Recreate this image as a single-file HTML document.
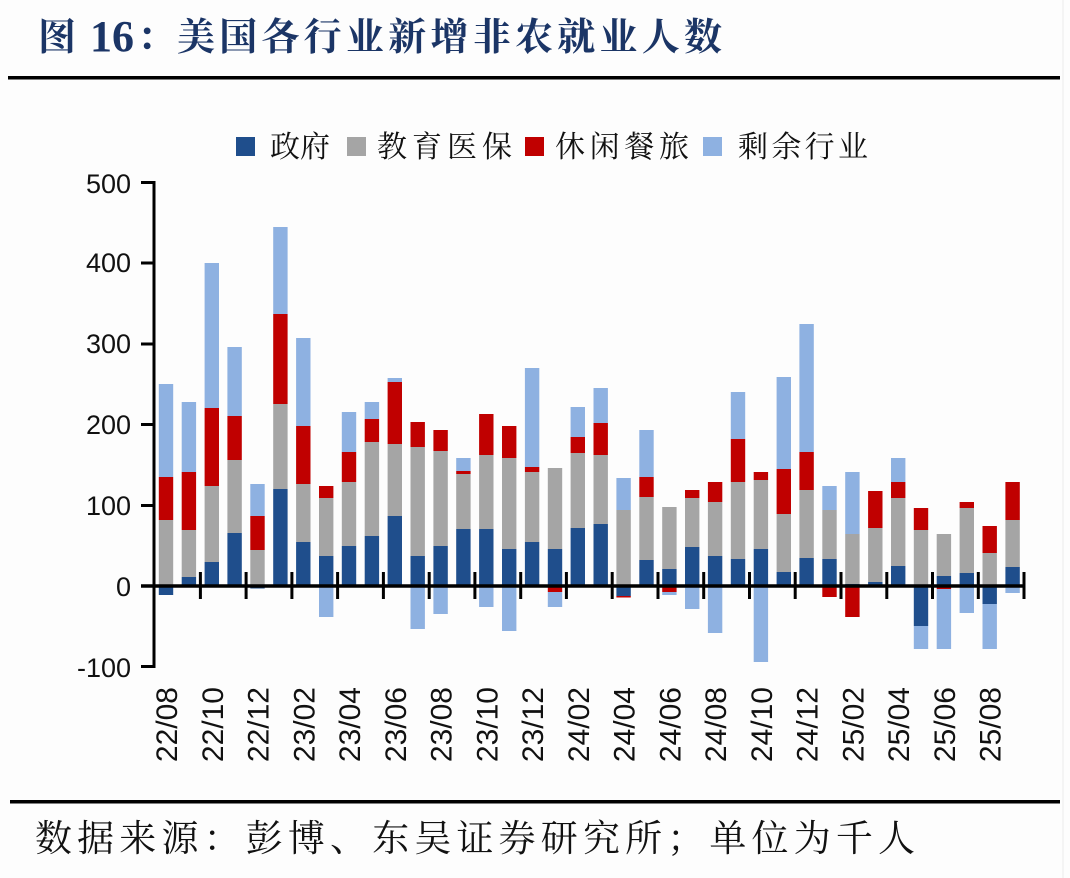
<!DOCTYPE html>
<html><head><meta charset="utf-8"><style>
html,body{margin:0;padding:0;background:#fdfdfd;}
svg{display:block;}
</style></head><body>
<svg width="1070" height="878" viewBox="0 0 1070 878" xmlns="http://www.w3.org/2000/svg">
<rect x="0" y="0" width="1070" height="878" fill="#fdfdfd"/>
<line x1="1063" y1="0" x2="1063" y2="878" stroke="#ececec" stroke-width="1"/>
<!-- Title -->
<g fill="#1b3566" font-weight="bold">
<text x="38" y="50" font-family="'Liberation Serif','Noto Serif CJK SC',serif" font-size="38">图</text>
<text x="90" y="51" font-family="'Liberation Serif',serif" font-size="44">16</text>
<text x="137" y="50" font-family="'Noto Serif CJK SC',serif" font-size="38">：</text>
<text x="177" y="50" font-family="'Liberation Serif','Noto Serif CJK SC',serif" font-size="38" textLength="545" lengthAdjust="spacing">美国各行业新增非农就业人数</text>
</g>
<rect x="8" y="76" width="1052" height="3.5" fill="#000"/>
<!-- Legend -->
<g font-family="'Liberation Serif','Noto Serif CJK SC',serif" font-size="30" fill="#111">
<rect x="236" y="137" width="19" height="19" fill="#1f4e8c"/>
<text x="270" y="157" textLength="60" lengthAdjust="spacing">政府</text>
<rect x="347" y="137" width="19" height="19" fill="#a5a5a5"/>
<text x="377" y="157" textLength="135" lengthAdjust="spacing">教育医保</text>
<rect x="525" y="137" width="19" height="19" fill="#c00000"/>
<text x="555" y="157" textLength="134" lengthAdjust="spacing">休闲餐旅</text>
<rect x="703" y="137" width="19" height="19" fill="#8eb1e1"/>
<text x="738" y="157" textLength="130" lengthAdjust="spacing">剩余行业</text>
</g>
<!-- Y labels -->
<g font-family="'Liberation Sans',sans-serif" font-size="27" fill="#111" text-anchor="end">
<text x="131" y="193">500</text>
<text x="131" y="272">400</text>
<text x="131" y="353">300</text>
<text x="131" y="434">200</text>
<text x="131" y="515">100</text>
<text x="131" y="596">0</text>
<text x="131" y="677">-100</text>
</g>
<!-- Bars -->
<g>
<!-- 1 -->
<rect x="158.8" y="586" width="14.4" height="9" fill="#1f4e8c"/>
<rect x="158.8" y="520" width="14.4" height="66" fill="#a5a5a5"/>
<rect x="158.8" y="477" width="14.4" height="43" fill="#c00000"/>
<rect x="158.8" y="384" width="14.4" height="93" fill="#8eb1e1"/>
<!-- 2 -->
<rect x="181.7" y="577" width="14.4" height="9" fill="#1f4e8c"/>
<rect x="181.7" y="530" width="14.4" height="47" fill="#a5a5a5"/>
<rect x="181.7" y="472" width="14.4" height="58" fill="#c00000"/>
<rect x="181.7" y="402" width="14.4" height="70" fill="#8eb1e1"/>
<!-- 3 -->
<rect x="204.6" y="562" width="14.4" height="24" fill="#1f4e8c"/>
<rect x="204.6" y="486" width="14.4" height="76" fill="#a5a5a5"/>
<rect x="204.6" y="408" width="14.4" height="78" fill="#c00000"/>
<rect x="204.6" y="263" width="14.4" height="145" fill="#8eb1e1"/>
<!-- 4 -->
<rect x="227.4" y="533" width="14.4" height="53" fill="#1f4e8c"/>
<rect x="227.4" y="460" width="14.4" height="73" fill="#a5a5a5"/>
<rect x="227.4" y="416" width="14.4" height="44" fill="#c00000"/>
<rect x="227.4" y="347" width="14.4" height="69" fill="#8eb1e1"/>
<!-- 5 -->
<rect x="250.3" y="586" width="14.4" height="2.5" fill="#1f4e8c"/>
<rect x="250.3" y="550" width="14.4" height="36" fill="#a5a5a5"/>
<rect x="250.3" y="516" width="14.4" height="34" fill="#c00000"/>
<rect x="250.3" y="484" width="14.4" height="32" fill="#8eb1e1"/>
<!-- 6 -->
<rect x="273.2" y="489" width="14.4" height="97" fill="#1f4e8c"/>
<rect x="273.2" y="404" width="14.4" height="85" fill="#a5a5a5"/>
<rect x="273.2" y="314" width="14.4" height="90" fill="#c00000"/>
<rect x="273.2" y="227" width="14.4" height="87" fill="#8eb1e1"/>
<!-- 7 -->
<rect x="296.1" y="542" width="14.4" height="44" fill="#1f4e8c"/>
<rect x="296.1" y="484" width="14.4" height="58" fill="#a5a5a5"/>
<rect x="296.1" y="426" width="14.4" height="58" fill="#c00000"/>
<rect x="296.1" y="338" width="14.4" height="88" fill="#8eb1e1"/>
<!-- 8 -->
<rect x="319.0" y="556" width="14.4" height="30" fill="#1f4e8c"/>
<rect x="319.0" y="498" width="14.4" height="58" fill="#a5a5a5"/>
<rect x="319.0" y="486" width="14.4" height="12" fill="#c00000"/>
<rect x="319.0" y="586" width="14.4" height="31" fill="#8eb1e1"/>
<!-- 9 -->
<rect x="341.8" y="546" width="14.4" height="40" fill="#1f4e8c"/>
<rect x="341.8" y="482" width="14.4" height="64" fill="#a5a5a5"/>
<rect x="341.8" y="452" width="14.4" height="30" fill="#c00000"/>
<rect x="341.8" y="412" width="14.4" height="40" fill="#8eb1e1"/>
<!-- 10 -->
<rect x="364.7" y="536" width="14.4" height="50" fill="#1f4e8c"/>
<rect x="364.7" y="442" width="14.4" height="94" fill="#a5a5a5"/>
<rect x="364.7" y="419" width="14.4" height="23" fill="#c00000"/>
<rect x="364.7" y="402" width="14.4" height="17" fill="#8eb1e1"/>
<!-- 11 -->
<rect x="387.6" y="516" width="14.4" height="70" fill="#1f4e8c"/>
<rect x="387.6" y="444" width="14.4" height="72" fill="#a5a5a5"/>
<rect x="387.6" y="382" width="14.4" height="62" fill="#c00000"/>
<rect x="387.6" y="378" width="14.4" height="4" fill="#8eb1e1"/>
<!-- 12 -->
<rect x="410.5" y="556" width="14.4" height="30" fill="#1f4e8c"/>
<rect x="410.5" y="447" width="14.4" height="109" fill="#a5a5a5"/>
<rect x="410.5" y="422" width="14.4" height="25" fill="#c00000"/>
<rect x="410.5" y="586" width="14.4" height="43" fill="#8eb1e1"/>
<!-- 13 -->
<rect x="433.4" y="546" width="14.4" height="40" fill="#1f4e8c"/>
<rect x="433.4" y="451" width="14.4" height="95" fill="#a5a5a5"/>
<rect x="433.4" y="430" width="14.4" height="21" fill="#c00000"/>
<rect x="433.4" y="586" width="14.4" height="28" fill="#8eb1e1"/>
<!-- 14 -->
<rect x="456.2" y="529" width="14.4" height="57" fill="#1f4e8c"/>
<rect x="456.2" y="474" width="14.4" height="55" fill="#a5a5a5"/>
<rect x="456.2" y="471" width="14.4" height="3" fill="#c00000"/>
<rect x="456.2" y="458" width="14.4" height="13" fill="#8eb1e1"/>
<!-- 15 -->
<rect x="479.1" y="529" width="14.4" height="57" fill="#1f4e8c"/>
<rect x="479.1" y="455" width="14.4" height="74" fill="#a5a5a5"/>
<rect x="479.1" y="414" width="14.4" height="41" fill="#c00000"/>
<rect x="479.1" y="586" width="14.4" height="21" fill="#8eb1e1"/>
<!-- 16 -->
<rect x="502.0" y="549" width="14.4" height="37" fill="#1f4e8c"/>
<rect x="502.0" y="458" width="14.4" height="91" fill="#a5a5a5"/>
<rect x="502.0" y="426" width="14.4" height="32" fill="#c00000"/>
<rect x="502.0" y="586" width="14.4" height="45" fill="#8eb1e1"/>
<!-- 17 -->
<rect x="524.9" y="542" width="14.4" height="44" fill="#1f4e8c"/>
<rect x="524.9" y="472" width="14.4" height="70" fill="#a5a5a5"/>
<rect x="524.9" y="467" width="14.4" height="5" fill="#c00000"/>
<rect x="524.9" y="368" width="14.4" height="99" fill="#8eb1e1"/>
<!-- 18 -->
<rect x="547.8" y="549" width="14.4" height="37" fill="#1f4e8c"/>
<rect x="547.8" y="468" width="14.4" height="81" fill="#a5a5a5"/>
<rect x="547.8" y="586" width="14.4" height="6" fill="#c00000"/>
<rect x="547.8" y="592" width="14.4" height="15" fill="#8eb1e1"/>
<!-- 19 -->
<rect x="570.6" y="528" width="14.4" height="58" fill="#1f4e8c"/>
<rect x="570.6" y="453" width="14.4" height="75" fill="#a5a5a5"/>
<rect x="570.6" y="437" width="14.4" height="16" fill="#c00000"/>
<rect x="570.6" y="407" width="14.4" height="30" fill="#8eb1e1"/>
<!-- 20 -->
<rect x="593.5" y="524" width="14.4" height="62" fill="#1f4e8c"/>
<rect x="593.5" y="455" width="14.4" height="69" fill="#a5a5a5"/>
<rect x="593.5" y="423" width="14.4" height="32" fill="#c00000"/>
<rect x="593.5" y="388" width="14.4" height="35" fill="#8eb1e1"/>
<!-- 21 -->
<rect x="616.4" y="586" width="14.4" height="10" fill="#1f4e8c"/>
<rect x="616.4" y="596" width="14.4" height="1.5" fill="#c00000"/>
<rect x="616.4" y="510" width="14.4" height="76" fill="#a5a5a5"/>
<rect x="616.4" y="478" width="14.4" height="32" fill="#8eb1e1"/>
<!-- 22 -->
<rect x="639.3" y="560" width="14.4" height="26" fill="#1f4e8c"/>
<rect x="639.3" y="497" width="14.4" height="63" fill="#a5a5a5"/>
<rect x="639.3" y="477" width="14.4" height="20" fill="#c00000"/>
<rect x="639.3" y="430" width="14.4" height="47" fill="#8eb1e1"/>
<!-- 23 -->
<rect x="662.2" y="569" width="14.4" height="17" fill="#1f4e8c"/>
<rect x="662.2" y="507" width="14.4" height="62" fill="#a5a5a5"/>
<rect x="662.2" y="586" width="14.4" height="6" fill="#c00000"/>
<rect x="662.2" y="592" width="14.4" height="3" fill="#8eb1e1"/>
<!-- 24 -->
<rect x="685.0" y="547" width="14.4" height="39" fill="#1f4e8c"/>
<rect x="685.0" y="498" width="14.4" height="49" fill="#a5a5a5"/>
<rect x="685.0" y="490" width="14.4" height="8" fill="#c00000"/>
<rect x="685.0" y="586" width="14.4" height="23" fill="#8eb1e1"/>
<!-- 25 -->
<rect x="707.9" y="556" width="14.4" height="30" fill="#1f4e8c"/>
<rect x="707.9" y="502" width="14.4" height="54" fill="#a5a5a5"/>
<rect x="707.9" y="482" width="14.4" height="20" fill="#c00000"/>
<rect x="707.9" y="586" width="14.4" height="47" fill="#8eb1e1"/>
<!-- 26 -->
<rect x="730.8" y="559" width="14.4" height="27" fill="#1f4e8c"/>
<rect x="730.8" y="482" width="14.4" height="77" fill="#a5a5a5"/>
<rect x="730.8" y="439" width="14.4" height="43" fill="#c00000"/>
<rect x="730.8" y="392" width="14.4" height="47" fill="#8eb1e1"/>
<!-- 27 -->
<rect x="753.7" y="549" width="14.4" height="37" fill="#1f4e8c"/>
<rect x="753.7" y="480" width="14.4" height="69" fill="#a5a5a5"/>
<rect x="753.7" y="472" width="14.4" height="8" fill="#c00000"/>
<rect x="753.7" y="586" width="14.4" height="76" fill="#8eb1e1"/>
<!-- 28 -->
<rect x="776.6" y="572" width="14.4" height="14" fill="#1f4e8c"/>
<rect x="776.6" y="514" width="14.4" height="58" fill="#a5a5a5"/>
<rect x="776.6" y="469" width="14.4" height="45" fill="#c00000"/>
<rect x="776.6" y="377" width="14.4" height="92" fill="#8eb1e1"/>
<!-- 29 -->
<rect x="799.4" y="558" width="14.4" height="28" fill="#1f4e8c"/>
<rect x="799.4" y="490" width="14.4" height="68" fill="#a5a5a5"/>
<rect x="799.4" y="452" width="14.4" height="38" fill="#c00000"/>
<rect x="799.4" y="324" width="14.4" height="128" fill="#8eb1e1"/>
<!-- 30 -->
<rect x="822.3" y="559" width="14.4" height="27" fill="#1f4e8c"/>
<rect x="822.3" y="510" width="14.4" height="49" fill="#a5a5a5"/>
<rect x="822.3" y="486" width="14.4" height="24" fill="#8eb1e1"/>
<rect x="822.3" y="586" width="14.4" height="11" fill="#c00000"/>
<!-- 31 -->
<rect x="845.2" y="584" width="14.4" height="2" fill="#1f4e8c"/>
<rect x="845.2" y="534" width="14.4" height="50" fill="#a5a5a5"/>
<rect x="845.2" y="472" width="14.4" height="62" fill="#8eb1e1"/>
<rect x="845.2" y="586" width="14.4" height="31" fill="#c00000"/>
<!-- 32 -->
<rect x="868.1" y="582" width="14.4" height="4" fill="#1f4e8c"/>
<rect x="868.1" y="528" width="14.4" height="54" fill="#a5a5a5"/>
<rect x="868.1" y="491" width="14.4" height="37" fill="#c00000"/>
<!-- 33 -->
<rect x="891.0" y="566" width="14.4" height="20" fill="#1f4e8c"/>
<rect x="891.0" y="498" width="14.4" height="68" fill="#a5a5a5"/>
<rect x="891.0" y="482" width="14.4" height="16" fill="#c00000"/>
<rect x="891.0" y="458" width="14.4" height="24" fill="#8eb1e1"/>
<!-- 34 -->
<rect x="913.8" y="586" width="14.4" height="40" fill="#1f4e8c"/>
<rect x="913.8" y="626" width="14.4" height="23" fill="#8eb1e1"/>
<rect x="913.8" y="530" width="14.4" height="56" fill="#a5a5a5"/>
<rect x="913.8" y="508" width="14.4" height="22" fill="#c00000"/>
<!-- 35 -->
<rect x="936.7" y="576" width="14.4" height="10" fill="#1f4e8c"/>
<rect x="936.7" y="534" width="14.4" height="42" fill="#a5a5a5"/>
<rect x="936.7" y="586" width="14.4" height="3" fill="#c00000"/>
<rect x="936.7" y="589" width="14.4" height="60" fill="#8eb1e1"/>
<!-- 36 -->
<rect x="959.6" y="573" width="14.4" height="13" fill="#1f4e8c"/>
<rect x="959.6" y="508" width="14.4" height="65" fill="#a5a5a5"/>
<rect x="959.6" y="502" width="14.4" height="6" fill="#c00000"/>
<rect x="959.6" y="586" width="14.4" height="27" fill="#8eb1e1"/>
<!-- 37 -->
<rect x="982.5" y="586" width="14.4" height="18" fill="#1f4e8c"/>
<rect x="982.5" y="604" width="14.4" height="45" fill="#8eb1e1"/>
<rect x="982.5" y="553" width="14.4" height="33" fill="#a5a5a5"/>
<rect x="982.5" y="526" width="14.4" height="27" fill="#c00000"/>
<!-- 38 -->
<rect x="1005.4" y="567" width="14.4" height="19" fill="#1f4e8c"/>
<rect x="1005.4" y="520" width="14.4" height="47" fill="#a5a5a5"/>
<rect x="1005.4" y="482" width="14.4" height="38" fill="#c00000"/>
<rect x="1005.4" y="586" width="14.4" height="7" fill="#8eb1e1"/>
</g>
<!-- Axes -->
<g stroke="#000" stroke-width="3" fill="none">
<line x1="154" y1="181" x2="154" y2="668"/>
<line x1="141" y1="182.5" x2="154" y2="182.5"/>
<line x1="141" y1="263" x2="154" y2="263"/>
<line x1="141" y1="344" x2="154" y2="344"/>
<line x1="141" y1="424.5" x2="154" y2="424.5"/>
<line x1="141" y1="505.5" x2="154" y2="505.5"/>
<line x1="141" y1="666.5" x2="154" y2="666.5"/>
<line x1="141" y1="586" x2="1025" y2="586" stroke-width="3.5"/>
<line x1="200.4" y1="572" x2="200.4" y2="599"/>
<line x1="246.1" y1="572" x2="246.1" y2="599"/>
<line x1="291.9" y1="572" x2="291.9" y2="599"/>
<line x1="337.6" y1="572" x2="337.6" y2="599"/>
<line x1="383.4" y1="572" x2="383.4" y2="599"/>
<line x1="429.2" y1="572" x2="429.2" y2="599"/>
<line x1="474.9" y1="572" x2="474.9" y2="599"/>
<line x1="520.7" y1="572" x2="520.7" y2="599"/>
<line x1="566.4" y1="572" x2="566.4" y2="599"/>
<line x1="612.2" y1="572" x2="612.2" y2="599"/>
<line x1="658.0" y1="572" x2="658.0" y2="599"/>
<line x1="703.7" y1="572" x2="703.7" y2="599"/>
<line x1="749.5" y1="572" x2="749.5" y2="599"/>
<line x1="795.2" y1="572" x2="795.2" y2="599"/>
<line x1="841.0" y1="572" x2="841.0" y2="599"/>
<line x1="886.8" y1="572" x2="886.8" y2="599"/>
<line x1="932.5" y1="572" x2="932.5" y2="599"/>
<line x1="978.3" y1="572" x2="978.3" y2="599"/>
<line x1="1024.0" y1="572" x2="1024.0" y2="599"/>
</g>
<!-- X labels -->
<g font-family="'Liberation Sans',sans-serif" font-size="30" fill="#111" text-anchor="end">
<text transform="translate(177,687) rotate(-90)">22/08</text>
<text transform="translate(222.8,687) rotate(-90)">22/10</text>
<text transform="translate(268.5,687) rotate(-90)">22/12</text>
<text transform="translate(314.3,687) rotate(-90)">23/02</text>
<text transform="translate(360,687) rotate(-90)">23/04</text>
<text transform="translate(405.8,687) rotate(-90)">23/06</text>
<text transform="translate(451.6,687) rotate(-90)">23/08</text>
<text transform="translate(497.3,687) rotate(-90)">23/10</text>
<text transform="translate(543.1,687) rotate(-90)">23/12</text>
<text transform="translate(588.8,687) rotate(-90)">24/02</text>
<text transform="translate(634.6,687) rotate(-90)">24/04</text>
<text transform="translate(680.4,687) rotate(-90)">24/06</text>
<text transform="translate(726.1,687) rotate(-90)">24/08</text>
<text transform="translate(771.9,687) rotate(-90)">24/10</text>
<text transform="translate(817.6,687) rotate(-90)">24/12</text>
<text transform="translate(863.4,687) rotate(-90)">25/02</text>
<text transform="translate(909.2,687) rotate(-90)">25/04</text>
<text transform="translate(954.9,687) rotate(-90)">25/06</text>
<text transform="translate(1000.7,687) rotate(-90)">25/08</text>
</g>
<!-- Footer -->
<rect x="10" y="800" width="1050" height="3.5" fill="#000"/>
<text x="35" y="851" font-family="'Liberation Serif','Noto Serif CJK SC',serif" font-size="37" fill="#111" textLength="880" lengthAdjust="spacing">数据来源：彭博、东吴证券研究所；单位为千人</text>
</svg>
</body></html>
